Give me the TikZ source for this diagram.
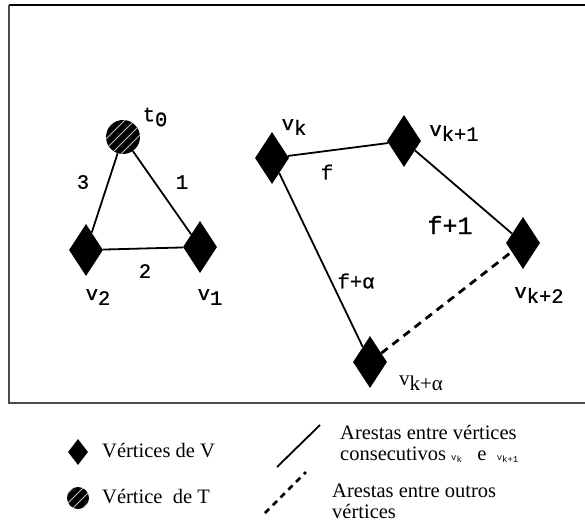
\documentclass[tikz,border=0pt]{standalone}
\usepackage{fontspec}
\setmainfont{Liberation Serif}
\setmonofont{Liberation Mono}
\newfontfamily\lblfont[FakeBold=0.9]{Liberation Mono}
\usetikzlibrary{shapes.geometric}
\newcommand{\lowsub}[1]{\raisebox{-0.45ex}{#1}}
\tikzset{
  % vertex of V: filled black diamond
  vtx/.style   = {diamond, fill=black, inner sep=0pt, minimum width=34pt, minimum height=52pt},
  vtxs/.style  = {diamond, fill=black, inner sep=0pt, minimum width=20pt, minimum height=26pt},
  % vertex of T: black disc with light diagonal stripes
  tvtx/.style  = {circle, fill=black, inner sep=0pt, minimum size=#1,
                  path picture={\foreach \o in {-15,-5,5,15}
                    \draw[white!75!black, line width=0.8pt]
                      ([shift={(\o-20,20)}]path picture bounding box.center) --
                      ([shift={(\o+20,-20)}]path picture bounding box.center);}},
  tvtx/.default = 34pt,
  edge/.style  = {line width=1.8pt},
  oedge/.style = {line width=2.8pt, dash pattern=on 8pt off 6pt},
  lbl/.style   = {font=\fontsize{20.5}{23}\selectfont\lblfont, inner sep=0pt},
  bigl/.style  = {font=\fontsize{25}{28}\selectfont\lblfont, inner sep=0pt},
  leg/.style   = {font=\fontsize{20.5}{23}\selectfont, inner sep=0pt, anchor=west},
}
\begin{document}
\begin{tikzpicture}[x=1pt,y=-1pt]
\useasboundingbox (0,0) rectangle (585,522);
% frame
\draw[line width=1.8pt] (585,5) -- (9,5);
\draw[line width=1.8pt, black!70] (9,4.5) -- (9,403) -- (585,403);
% triangle with the vertex of T
\node[vtx] (v2) at (86,250) {};
\node[vtx] (v1) at (200,247) {};
\node[tvtx] (t0) at (123,137) {};
\draw[edge] (t0) -- (v2);
\draw[edge] (t0) -- (v1);
\draw[edge] (v2) -- (v1);
\node[lbl] (lt0) at (155,117) {t\lowsub{0}};
\node[lbl] (l3) at (83,182) {3};
\node[lbl] (l1) at (182,182) {1};
\node[lbl] (l2) at (145,271) {2};
\node[lbl] (lv2) at (98,297) {v\lowsub{2}};
\node[lbl] (lv1) at (210,297) {v\lowsub{1}};
% cycle of V
\node[vtx] (vk)  at (272,158) {};
\node[vtx] (vk1) at (404,141) {};
\node[vtx] (vk2) at (523,243) {};
\node[vtx] (vka) at (370,362) {};
\draw[edge] (vk) -- (vk1);
\draw[edge] (vk1) -- (vk2);
\draw[edge] (vk) -- (vka);
\draw[oedge] (vka) -- (vk2);
\node[lbl] (lvk)  at (294,127) {v\lowsub{k}};
\node[lbl] (lvk1) at (454,133) {v\lowsub{k+1}};
\node[lbl] (lvk2) at (539,295) {v\lowsub{k+2}};
\node[font=\fontsize{21}{24}\selectfont, inner sep=0pt] (lvka) at (421,383) {v\lowsub{k+α}};
\node[lbl] (lf)  at (327,172) {f};
\node[bigl] (lf1) at (450,225) {f+1};
\node[lbl] (lfa) at (356,281) {f+α};
% legend
\node[vtxs] (kv) at (78,452) {};
\node[leg] (tv) at (102,451) {Vértices de V};
\node[tvtx=22pt] (kt) at (78,498) {};
\node[leg] (tt) at (102,497) {Vértice\ \ de T};
\coordinate (s1) at (277,467);
\coordinate (s2) at (320,425);
\draw[edge] (s1) -- (s2);
\coordinate (d1) at (265,513);
\coordinate (d2) at (306,472);
\draw[oedge, dash pattern=on 6pt off 5pt] (d1) -- (d2);
\node[leg, align=left] (ts) at (340,444) {Arestas entre vértices\\[-2pt]
  consecutivos {\fontsize{9}{10}\selectfont\ttfamily v\lowsub{k}}\ \ \ e\ \ {\fontsize{9}{10}\selectfont\ttfamily v\lowsub{k+1}}};
\node[leg, align=left] (td) at (332,501) {Arestas entre outros\\[-2pt] vértices};
\end{tikzpicture}
\end{document}
